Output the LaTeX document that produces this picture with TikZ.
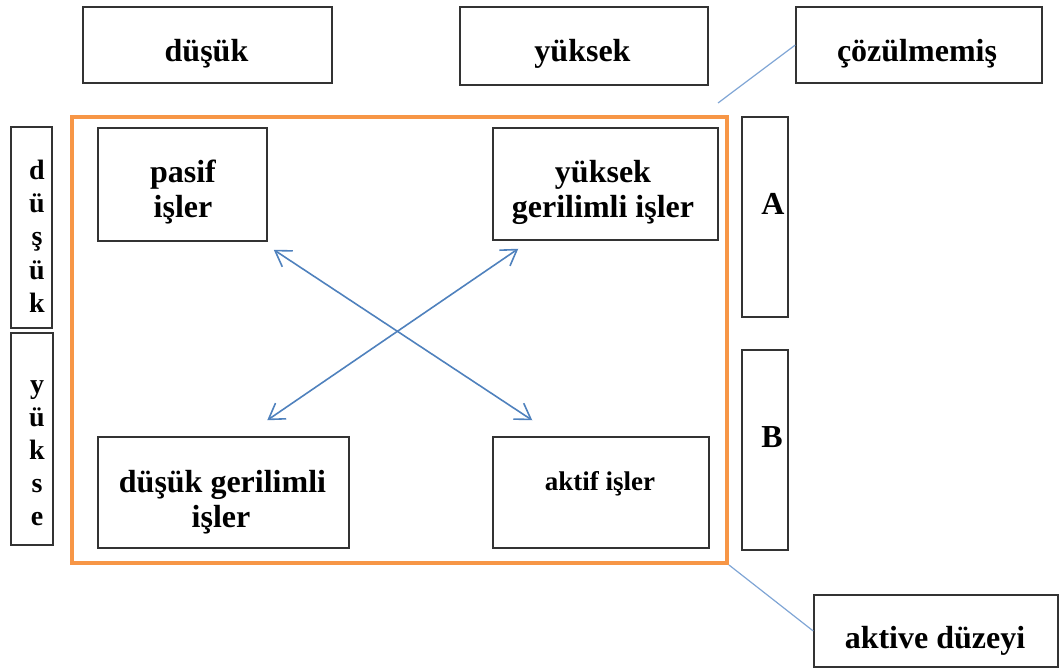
\documentclass[tikz,border=0pt]{standalone}
\usepackage{fontspec}
\setmainfont{Liberation Serif}
\usetikzlibrary{arrows.meta,calc}
\definecolor{frameorange}{HTML}{F79646}
\definecolor{arrowblue}{HTML}{4F81BD}
\definecolor{calloutblue}{HTML}{7FA5D5}
\definecolor{boxline}{HTML}{333333}
\begin{document}
\begin{tikzpicture}[x=1pt,y=-1pt,
  cell/.style={draw=boxline,line width=1.5pt,inner sep=0pt,fill=none},
  lbl/.style={anchor=base,inner sep=0pt,font=\bfseries\fontsize{32}{35}\selectfont},
  smalllbl/.style={lbl,font=\bfseries\fontsize{27}{30}\selectfont},
  letter/.style={lbl,font=\bfseries\fontsize{28}{30}\selectfont},
  link/.style={draw=arrowblue,line width=1.6pt,
    {Straight Barb[length=15pt,width=19pt]}-{Straight Barb[length=15pt,width=19pt]}},
  callout/.style={draw=calloutblue,line width=1.2pt}]
\useasboundingbox (0,0) rectangle (1059,668);

% column headers
\node[cell,minimum width=249,minimum height=76] (colLow) at (207.5,45) {};
\node[cell,minimum width=248,minimum height=78] (colHigh) at (584,46) {};
\node[lbl] (colLowT) at (206.5,62) {düşük};
\node[lbl] (colHighT) at (582.5,62) {yüksek};

% legend boxes on the right
\node[cell,minimum width=246,minimum height=76] (unres) at (919,45) {};
\node[lbl] (unresT) at (917,62) {çözülmemiş};
\node[cell,minimum width=244,minimum height=72] (act) at (936,631) {};
\node[lbl] (actT) at (935,648) {aktive düzeyi};

% row headers (vertical lettering)
\node[cell,minimum width=41,minimum height=201] (rowLow) at (31.5,227.5) {};
\node[cell,minimum width=42,minimum height=212] (rowHigh) at (32,439) {};
\foreach \ch [count=\i from 0] in {d,ü,ş,ü,k}
  \node[letter] (rowLowL\i) at (37,180+33*\i) {\ch};
\foreach \ch [count=\i from 0] in {y,ü,k,s,e}
  \node[letter] (rowHighL\i) at (37,393+33*\i) {\ch};

% orange frame around the four quadrants
\node[draw=frameorange,line width=4pt,inner sep=0pt,
  minimum width=655,minimum height=446] (frame) at (399.5,340) {};

% quadrant boxes
\node[cell,minimum width=169,minimum height=113] (passive) at (182.5,184.5) {};
\node[lbl] (passiveA) at (183,183) {pasif};
\node[lbl] (passiveB) at (183,218) {işler};

\node[cell,minimum width=225,minimum height=112] (highstrain) at (605.5,184) {};
\node[lbl] (highstrainA) at (603,183) {yüksek};
\node[lbl] (highstrainB) at (603,218) {gerilimli işler};

\node[cell,minimum width=251,minimum height=111] (lowstrain) at (223.5,492.5) {};
\node[lbl] (lowstrainA) at (222.5,492) {düşük gerilimli};
\node[lbl] (lowstrainB) at (221,527) {işler};

\node[cell,minimum width=216,minimum height=111] (active) at (601,492.5) {};
\node[smalllbl] (activeT) at (600,490) {aktif işler};

% side boxes A and B
\node[cell,minimum width=46,minimum height=200] (sideA) at (765,217) {};
\node[lbl] (sideAT) at (773,215) {A};
\node[cell,minimum width=46,minimum height=200] (sideB) at (765,450) {};
\node[lbl] (sideBT) at (772,447) {B};

% diagonal double arrows
\coordinate (pasEnd) at ($(passive.south east)+(6,8)$);
\coordinate (actEnd) at ($(active.north west)+(40,-16)$);
\coordinate (hiEnd) at ($(highstrain.south west)+(26,8)$);
\coordinate (loEnd) at ($(lowstrain.north west)+(170,-16)$);
\draw[link] (pasEnd) -- (actEnd);
\draw[link] (hiEnd) -- (loEnd);

% callout lines
\coordinate (unresTip) at (718,103);
\draw[callout] (unres.west) -- (unresTip);
\draw[callout] (frame.south east) -- (act.west);
\end{tikzpicture}
\end{document}
